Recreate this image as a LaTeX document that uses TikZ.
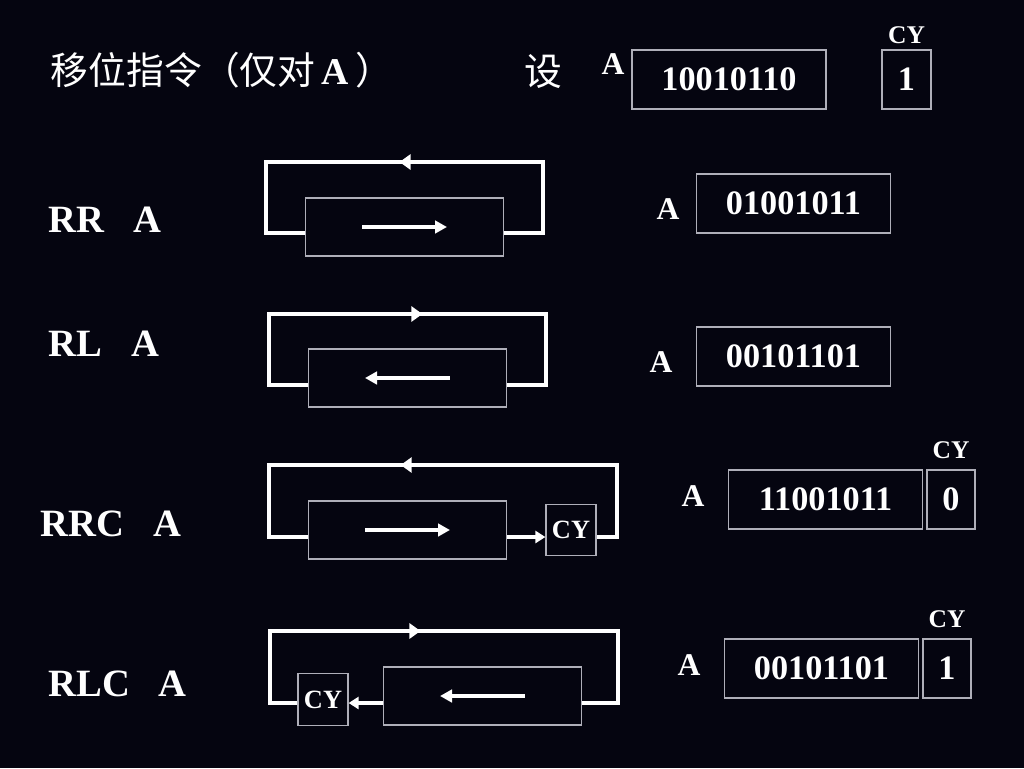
\documentclass[tikz,border=0pt]{standalone}
\usepackage{fontspec}
\setmainfont{Liberation Serif}
\newfontfamily\cjk{Noto Sans CJK SC}
\usepackage{tikz}
\usetikzlibrary{arrows.meta, decorations.markings, positioning}
\definecolor{slidebg}{RGB}{5,5,16}
\definecolor{boxline}{RGB}{175,175,185}
\tikzstyle{reg} = [rectangle, draw=boxline, line width=0.7pt, text=white, minimum width=3.96cm, minimum height=1.16cm]
\tikzstyle{res} = [rectangle, draw=boxline, line width=0.7pt, text=white, minimum width=3.88cm, minimum height=1.18cm, font=\bfseries\fontsize{19.5}{22}\selectfont]
\tikzstyle{resbit} = [res, minimum width=0.96cm]
\tikzstyle{cybox} = [rectangle, draw=boxline, line width=0.7pt, text=white, minimum width=1cm, minimum height=1.03cm, inner sep=0pt, font=\bfseries\fontsize{15}{17}\selectfont]
\tikzstyle{cylbl} = [text=white, inner sep=1pt, font=\bfseries\fontsize{14.5}{16}\selectfont]
\tikzstyle{alabel} = [text=white, inner sep=1pt, font=\bfseries\fontsize{18}{20}\selectfont]
\tikzstyle{oplabel} = [text=white, anchor=west, inner sep=0pt, font=\bfseries\fontsize{22}{24}\selectfont]
\tikzstyle{loopline} = [white, line width=2.5pt]
\tikzstyle{arrow} = [white, line width=2pt, -{Triangle[length=0.24cm, width=0.25cm]}]
\tikzstyle{tip} = [-{Triangle[length=0.2cm, width=0.24cm]}]
\tikzset{midmark/.style={postaction={decorate}, decoration={markings, mark=at position #1 with {\arrow{Triangle[length=0.22cm, width=0.3cm]}}}}}

\begin{document}
\begin{tikzpicture}[x=0.02cm, y=-0.02cm]
\fill[slidebg] (0,0) rectangle (1024,768);
\useasboundingbox (0,0) rectangle (1024,768);

% title and starting values
\node[text=white, font=\fontsize{21.5}{24}\selectfont] (title) at (222,70) {{\cjk 移位指令（仅对}\,\textbf{A}\,{\cjk ）}};
\node[text=white, font=\cjk\fontsize{21.5}{24}\selectfont] (let) at (543,72) {设};
\node[alabel] (a0) at (613,64) {A};
\node[res] (r0) at (729,79.5) {10010110};
\node[resbit, minimum width=0.98cm] (c0) at (906.5,79.5) {1};
\node[cylbl, above=2pt of c0] (c0lbl) {CY};

% RR A
\node[oplabel] (rrop) at (48,220) {RR\hspace{0.75em}A};
\node[reg] (rrbox) at (404.5,227) {};
\coordinate (rrTL) at (266,162);
\coordinate (rrBR) at (543,233);
\draw[loopline, midmark=0.51] (rrbox.east |- rrBR) -- (rrBR) |- (rrTL) |- (rrbox.west |- rrBR);
\draw[arrow] ([xshift=-0.85cm]rrbox.center) -- ([xshift=0.85cm]rrbox.center);
\node[alabel] (arr) at (668,209) {A};
\node[res] (rrres) at (793.5,203.5) {01001011};

% RL A
\node[oplabel] (rlop) at (48,344) {RL\hspace{0.75em}A};
\node[reg] (rlbox) at (407.5,378) {};
\coordinate (rlTL) at (269,314);
\coordinate (rlBR) at (546,385);
\draw[loopline, midmark=0.53] (rlbox.west |- rlBR) -| (rlTL) -| (rlBR) -- (rlbox.east |- rlBR);
\draw[arrow] ([xshift=0.85cm]rlbox.center) -- ([xshift=-0.85cm]rlbox.center);
\node[alabel] (arl) at (661,362) {A};
\node[res] (rlres) at (793.5,356.5) {00101101};

% RRC A
\node[oplabel] (rrcop) at (40,524) {RRC\hspace{0.75em}A};
\node[reg] (rrcbox) at (407.5,530) {};
\node[cybox] (rrccy) at (571,530) {CY};
\coordinate (rrcTL) at (269,465);
\coordinate (rrcBR) at (617,537);
\draw[loopline, midmark=0.56] (rrccy.east |- rrcBR) -- (rrcBR) |- (rrcTL) |- (rrcbox.west |- rrcBR);
\draw[loopline, tip] (rrcbox.east |- rrcBR) -- (rrccy.west |- rrcBR);
\draw[arrow] ([xshift=-0.85cm]rrcbox.center) -- ([xshift=0.85cm]rrcbox.center);
\node[alabel] (arrc) at (693,496) {A};
\node[res] (rrcres) at (825.5,499.5) {11001011};
\node[resbit] (rrcbit) at (951,499.5) {0};
\node[cylbl, above=5pt of rrcbit] (rrclbl) {CY};

% RLC A
\node[oplabel] (rlcop) at (48,684) {RLC\hspace{0.75em}A};
\node[reg] (rlcbox) at (482.5,696) {};
\node[cybox] (rlccy) at (323,699.5) {CY};
\coordinate (rlcTL) at (270,631);
\coordinate (rlcBR) at (618,703);
\draw[loopline, midmark=0.45] (rlccy.west |- rlcBR) -| (rlcTL) -| (rlcBR) -- (rlcbox.east |- rlcBR);
\draw[loopline, tip] (rlcbox.west |- rlcBR) -- (rlccy.east |- rlcBR);
\draw[arrow] ([xshift=0.85cm]rlcbox.center) -- ([xshift=-0.85cm]rlcbox.center);
\node[alabel] (arlc) at (689,665) {A};
\node[res] (rlcres) at (821.5,668.5) {00101101};
\node[resbit] (rlcbit) at (947,668.5) {1};
\node[cylbl, above=5pt of rlcbit] (rlclbl) {CY};

\end{tikzpicture}
\end{document}
